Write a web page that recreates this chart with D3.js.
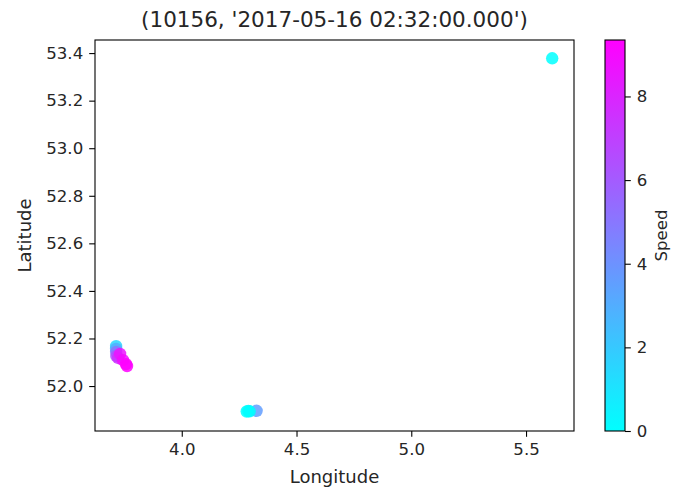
<!DOCTYPE html>
<html><head><meta charset="utf-8">
<script src="https://cdn.jsdelivr.net/npm/d3@7"></script>
<style>body{margin:0;background:#fff}svg{font-family:"DejaVu Sans",sans-serif}</style>
</head><body><svg id="c" width="673" height="491"></svg>
<script>
const titleText = "(10156, '2017-05-16 02:32:00.000')";
const longitude = [3.714,3.714,3.714,3.715,3.7226,3.7313,3.7443,3.7574,3.7617, 4.326,4.296,4.290,4.283, 5.614];
const latitude  = [52.168,52.156,52.143,52.126,52.118,52.135,52.109,52.092,52.084, 51.896,51.894,51.895,51.893, 53.378];
const speed     = [1.5,3.0,5.0,6.5,7.5,8.6,9.0,9.3,9.3, 3.6,0.1,0.2,0.0, 0.0];
const xTicks = [4.0,4.5,5.0,5.5];
const yTicks = [52.0,52.2,52.4,52.6,52.8,53.0,53.2,53.4];
const cTicks = [0,2,4,6,8];

const svg = d3.select("#c");
const L=95,R=574,T=40,B=431;
const x = d3.scaleLinear().domain([3.622,5.709]).range([L,R]);
const y = d3.scaleLinear().domain([51.811,53.455]).range([B,T]);
const sMax = 9.35;
const cool = t => d3.rgb(255*t, 255*(1-t), 255);
const col = d3.scaleLinear().domain([0,sMax]).range([0,1]).clamp(true);

const plot = svg.append("g");
plot.selectAll("circle").data(d3.range(longitude.length)).join("circle")
  .attr("cx",i=>x(longitude[i])).attr("cy",i=>y(latitude[i])).attr("r",6.2)
  .attr("fill",i=>cool(col(speed[i]))).attr("fill-opacity",0.85);

svg.append("rect").attr("x",L).attr("y",T).attr("width",R-L).attr("height",B-T)
  .attr("fill","none").attr("stroke","#000").attr("stroke-width",1.1);

const fs = "16.6px";
const tl = 5.8, tp = 6;
const xa = svg.append("g").attr("transform",`translate(0,${B})`)
  .call(d3.axisBottom(x).tickValues(xTicks).tickFormat(d3.format(".1f")).tickSize(tl).tickPadding(tp));
const ya = svg.append("g").attr("transform",`translate(${L},0)`)
  .call(d3.axisLeft(y).tickValues(yTicks).tickFormat(d3.format(".1f")).tickSize(tl).tickPadding(tp));
[xa,ya].forEach(a=>{a.select(".domain").remove();a.selectAll("text").attr("font-size",fs).attr("fill","#262626").attr("font-family","DejaVu Sans");a.selectAll("line").attr("stroke","#000").attr("stroke-width",1.1);});

svg.append("text").attr("x",(L+R)/2).attr("y",483).attr("text-anchor","middle").attr("font-size","18px").attr("fill","#262626").text("Longitude");
svg.append("text").attr("transform",`translate(31,${(T+B)/2}) rotate(-90)`).attr("text-anchor","middle").attr("font-size","18px").attr("fill","#262626").text("Latitude");
svg.append("text").attr("x",(L+R)/2).attr("y",27).attr("text-anchor","middle").attr("font-size","21.5px").attr("fill","#262626").text(titleText);

// colorbar
const cbL=605,cbW=20;
const cy = d3.scaleLinear().domain([0,sMax]).range([B,T]);
const defs = svg.append("defs");
const g = defs.append("linearGradient").attr("id","cg").attr("x1",0).attr("y1",1).attr("x2",0).attr("y2",0);
d3.range(0,1.0001,0.1).forEach(t=>g.append("stop").attr("offset",t).attr("stop-color",cool(t)));
svg.append("rect").attr("x",cbL).attr("y",T).attr("width",cbW).attr("height",B-T).attr("fill","url(#cg)").attr("stroke","#000").attr("stroke-width",1.1);
const ca = svg.append("g").attr("transform",`translate(${cbL+cbW},0)`)
  .call(d3.axisRight(cy).tickValues(cTicks).tickFormat(d3.format("d")).tickSize(tl).tickPadding(tp));
ca.select(".domain").remove();
ca.selectAll("text").attr("font-size",fs).attr("fill","#262626").attr("font-family","DejaVu Sans");
ca.selectAll("line").attr("stroke","#000").attr("stroke-width",1.1);
svg.append("text").attr("transform",`translate(667,${(T+B)/2}) rotate(-90)`).attr("text-anchor","middle").attr("font-size","16.6px").attr("fill","#262626").text("Speed");
</script></body></html>
